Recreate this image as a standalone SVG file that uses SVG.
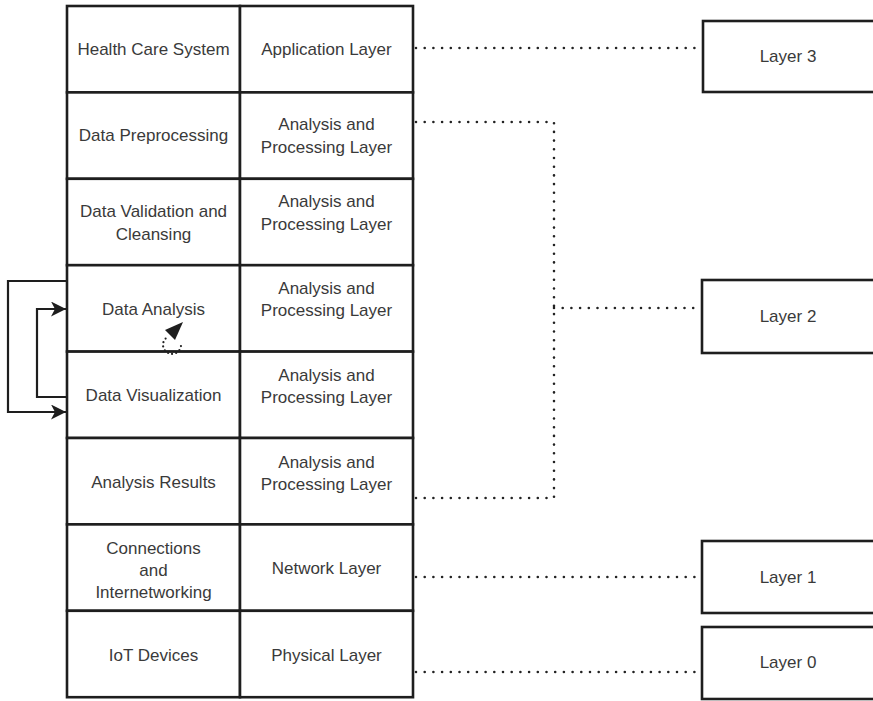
<svg xmlns="http://www.w3.org/2000/svg" width="873" height="701" viewBox="0 0 873 701">
  <style>
    .cell { fill: #ffffff; stroke: #1e1e1e; stroke-width: 2.6; }
    .lbl { font-family: "Liberation Sans", Arial, sans-serif; font-size: 17px; fill: #3a3a3a; text-anchor: middle; }
    .dots { fill: none; stroke: #222222; stroke-width: 2.6; stroke-linecap: round; stroke-dasharray: 0 8.7; }
    .flow { fill: none; stroke: #1e1e1e; stroke-width: 2.2; }
  </style>
  <defs>
    <marker id="arrow" markerWidth="16" markerHeight="16" refX="15" refY="7.5" orient="auto" markerUnits="userSpaceOnUse">
      <path d="M0,0 L15,7.5 L0,15 L4,7.5 Z" fill="#1e1e1e"/>
    </marker>
  </defs>
  <rect width="873" height="701" fill="#ffffff"/>

  <!-- stacked layer table -->
  <g id="row-health">
    <rect class="cell" x="67" y="6" width="173" height="86.4"/>
    <rect class="cell" x="240" y="6" width="173" height="86.4"/>
    <text class="lbl" x="153.5" y="55">Health Care System</text>
    <text class="lbl" x="326.5" y="55">Application Layer</text>
  </g>
  <g id="row-preprocessing">
    <rect class="cell" x="67" y="92.4" width="173" height="86.4"/>
    <rect class="cell" x="240" y="92.4" width="173" height="86.4"/>
    <text class="lbl" x="153.5" y="141">Data Preprocessing</text>
    <text class="lbl" x="326.5" y="130">Analysis and</text>
    <text class="lbl" x="326.5" y="153">Processing Layer</text>
  </g>
  <g id="row-validation">
    <rect class="cell" x="67" y="178.8" width="173" height="86.4"/>
    <rect class="cell" x="240" y="178.8" width="173" height="86.4"/>
    <text class="lbl" x="153.5" y="217">Data Validation and</text>
    <text class="lbl" x="153.5" y="240">Cleansing</text>
    <text class="lbl" x="326.5" y="207">Analysis and</text>
    <text class="lbl" x="326.5" y="230">Processing Layer</text>
  </g>
  <g id="row-analysis">
    <rect class="cell" x="67" y="265.2" width="173" height="86.4"/>
    <rect class="cell" x="240" y="265.2" width="173" height="86.4"/>
    <text class="lbl" x="153.5" y="315">Data Analysis</text>
    <text class="lbl" x="326.5" y="294">Analysis and</text>
    <text class="lbl" x="326.5" y="316">Processing Layer</text>
  </g>
  <g id="row-visualization">
    <rect class="cell" x="67" y="351.6" width="173" height="86.4"/>
    <rect class="cell" x="240" y="351.6" width="173" height="86.4"/>
    <text class="lbl" x="153.5" y="401">Data Visualization</text>
    <text class="lbl" x="326.5" y="381">Analysis and</text>
    <text class="lbl" x="326.5" y="403">Processing Layer</text>
  </g>
  <g id="row-results">
    <rect class="cell" x="67" y="438" width="173" height="86.4"/>
    <rect class="cell" x="240" y="438" width="173" height="86.4"/>
    <text class="lbl" x="153.5" y="488">Analysis Results</text>
    <text class="lbl" x="326.5" y="468">Analysis and</text>
    <text class="lbl" x="326.5" y="490">Processing Layer</text>
  </g>
  <g id="row-connections">
    <rect class="cell" x="67" y="524.4" width="173" height="86.4"/>
    <rect class="cell" x="240" y="524.4" width="173" height="86.4"/>
    <text class="lbl" x="153.5" y="554">Connections</text>
    <text class="lbl" x="153.5" y="576">and</text>
    <text class="lbl" x="153.5" y="598">Internetworking</text>
    <text class="lbl" x="326.5" y="574">Network Layer</text>
  </g>
  <g id="row-iot">
    <rect class="cell" x="67" y="610.8" width="173" height="86.4"/>
    <rect class="cell" x="240" y="610.8" width="173" height="86.4"/>
    <text class="lbl" x="153.5" y="661">IoT Devices</text>
    <text class="lbl" x="326.5" y="661">Physical Layer</text>
  </g>

  <!-- layer tags on the right -->
  <g id="layer-3">
    <rect class="cell" x="703" y="21" width="172" height="71"/>
    <text class="lbl" x="788" y="62">Layer 3</text>
  </g>
  <g id="layer-2">
    <rect class="cell" x="702" y="280" width="173" height="73"/>
    <text class="lbl" x="788" y="322">Layer 2</text>
  </g>
  <g id="layer-1">
    <rect class="cell" x="702" y="541" width="173" height="72"/>
    <text class="lbl" x="788" y="583">Layer 1</text>
  </g>
  <g id="layer-0">
    <rect class="cell" x="702" y="627" width="173" height="72"/>
    <text class="lbl" x="788" y="668">Layer 0</text>
  </g>

  <!-- connectors -->
  <g id="connectors">
    <path class="dots" d="M416,48 H701"/>
    <path class="dots" d="M416,122 H554 V307"/>
    <path class="dots" d="M416,498 H554 V308"/>
    <path class="dots" d="M554,308 H700"/>
    <path class="dots" d="M416,577 H700"/>
    <path class="dots" d="M416,672 H700"/>
    <path class="flow" d="M66,281 H8 V412 H66" marker-end="url(#arrow)"/>
    <path class="flow" d="M66,397 H37 V309 H66" marker-end="url(#arrow)"/>
    <!-- self loop on Data Analysis -->
    <path d="M165.6,338.6 A9,9 0 1,0 180.9,343.4" fill="none" stroke="#222222" stroke-width="2.2" stroke-linecap="round" stroke-dasharray="0 4.2"/>
    <path d="M183,322 L165,330 L175,340 Z" fill="#1e1e1e"/>
  </g>
</svg>
